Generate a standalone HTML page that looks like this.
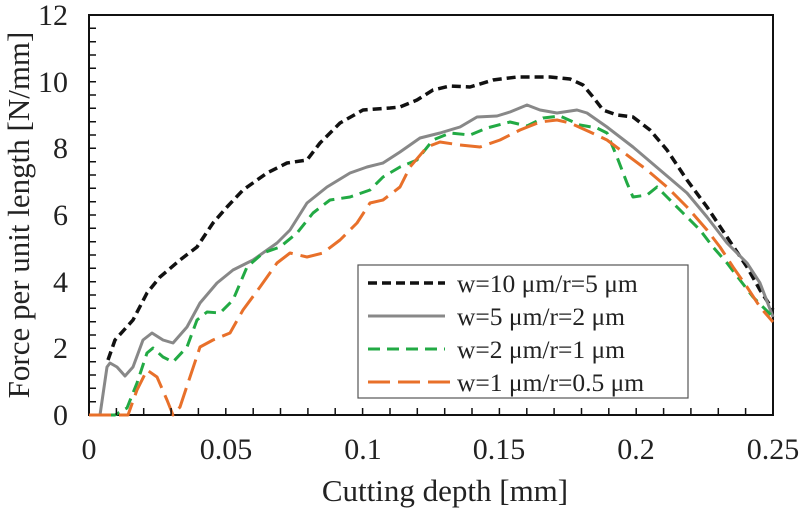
<!DOCTYPE html>
<html><head><meta charset="utf-8"><style>body{margin:0;background:#fff}svg{display:block}text{font-family:"Liberation Serif","DejaVu Serif",serif;fill:#222}</style></head><body>
<svg width="800" height="508" viewBox="0 0 800 508" xmlns="http://www.w3.org/2000/svg">
<path d="M89 415V15H773V415Z" fill="none" stroke="#111" stroke-width="2"/>
<g text-anchor="end" style="font-size:30px">
<text x="68" y="425">0</text><text x="68" y="358">2</text><text x="68" y="292">4</text><text x="68" y="225">6</text><text x="68" y="158">8</text><text x="68" y="92">10</text><text x="68" y="25">12</text>
</g>
<g text-anchor="middle" style="font-size:30px">
<text x="89" y="459">0</text><text x="226" y="459">0.05</text><text x="363" y="459">0.1</text><text x="499" y="459">0.15</text><text x="636" y="459">0.2</text><text x="773" y="459">0.25</text>
</g>
<text x="445" y="501" text-anchor="middle" style="font-size:31px">Cutting depth [mm]</text>
<text transform="translate(29,215) rotate(-90)" text-anchor="middle" style="font-size:31px">Force per unit length [N/mm]</text>
<g fill="none" stroke-linejoin="round">
<polyline stroke="#111" stroke-width="3.5" stroke-dasharray="9,5" points="108,360 115,340 133,320 147,293 160,277 180,260 197,247 213,223 227,207 243,190 267,173 287,163 307,160 320,143 340,123 363,110 390,108 400,107 417,100 433,90 450,86 470,87 493,80 517,77 550,77 570,79 583,85 593,97 603,110 617,115 633,117 650,130 667,150 687,180 707,207 727,237 747,267 760,290 773,310"/>
<polyline stroke="#888" stroke-width="3" points="89,415 100,415 107,367 110,363 117,367 125,376 133,367 143,340 152,333 163,340 173,343 187,327 200,303 217,283 233,270 253,260 277,243 290,230 307,203 327,187 350,173 367,167 383,163 400,152 420,138 440,133 460,127 477,117 497,116 510,112 527,105 540,110 557,113 577,110 587,113 607,127 633,147 660,170 687,193 707,217 727,243 747,263 760,283 773,317"/>
<polyline stroke="#22aa44" stroke-width="3" stroke-dasharray="12,7" points="89,415 115,415 127,408 137,383 147,353 153,348 163,357 173,362 187,347 197,320 207,312 220,313 233,300 247,267 263,253 280,247 297,233 313,213 330,200 350,197 370,190 383,177 400,167 417,160 433,140 450,133 470,135 487,128 510,122 527,126 543,118 560,116 580,125 597,128 607,133 617,157 627,183 633,197 647,195 657,187 667,197 683,213 700,230 713,247 727,263 740,280 753,297 773,317"/>
<polyline stroke="#e8702a" stroke-width="3" stroke-dasharray="22,8" points="89,415 128,415 137,390 147,370 157,377 167,400 173,415 180,407 190,377 200,347 213,340 230,333 243,310 260,287 277,263 290,253 307,257 323,253 340,240 357,223 370,203 383,200 400,187 410,167 427,147 440,142 460,145 480,147 500,140 520,130 540,122 557,120 570,123 590,132 607,140 627,155 647,170 667,187 687,207 707,230 720,247 733,267 747,287 760,307 773,322"/>
</g>
<rect x="358" y="265" width="330" height="133" fill="#fff" stroke="#555" stroke-width="1.2"/>
<g fill="none">
<line x1="368" y1="283" x2="445" y2="283" stroke="#111" stroke-width="3.5" stroke-dasharray="9,5"/>
<line x1="368" y1="316" x2="445" y2="316" stroke="#888" stroke-width="3"/>
<line x1="368" y1="349" x2="445" y2="349" stroke="#22aa44" stroke-width="3" stroke-dasharray="12,7"/>
<line x1="368" y1="382" x2="452" y2="382" stroke="#e8702a" stroke-width="3" stroke-dasharray="22,8"/>
</g>
<g style="font-size:25.5px">
<text x="457" y="292">w=10 μm/r=5 μm</text>
<text x="457" y="325">w=5 μm/r=2 μm</text>
<text x="457" y="358">w=2 μm/r=1 μm</text>
<text x="457" y="391">w=1 μm/r=0.5 μm</text>
</g>
<g stroke="#111" stroke-width="1.5">
<path d="M89 401.7h7M89 388.3h7M89 375h7M89 361.7h7M89 348.3h7M89 335h7M89 321.7h7M89 308.3h7M89 295h7M89 281.7h7M89 268.3h7M89 255h7M89 241.7h7M89 228.3h7M89 215h7M89 201.7h7M89 188.3h7M89 175h7M89 161.7h7M89 148.3h7M89 135h7M89 121.7h7M89 108.3h7M89 95h7M89 81.7h7M89 68.3h7M89 55h7M89 41.7h7M89 28.3h7"/>
<path d="M116.4 415v-7M143.7 415v-7M171.1 415v-7M198.4 415v-7M225.8 415v-7M253.2 415v-7M280.5 415v-7M307.9 415v-7M335.2 415v-7M362.6 415v-7M390 415v-7M417.3 415v-7M444.7 415v-7M472 415v-7M499.4 415v-7M526.8 415v-7M554.1 415v-7M581.5 415v-7M608.8 415v-7M636.2 415v-7M663.6 415v-7M690.9 415v-7M718.3 415v-7M745.6 415v-7"/>
</g>
</svg>
</body></html>
